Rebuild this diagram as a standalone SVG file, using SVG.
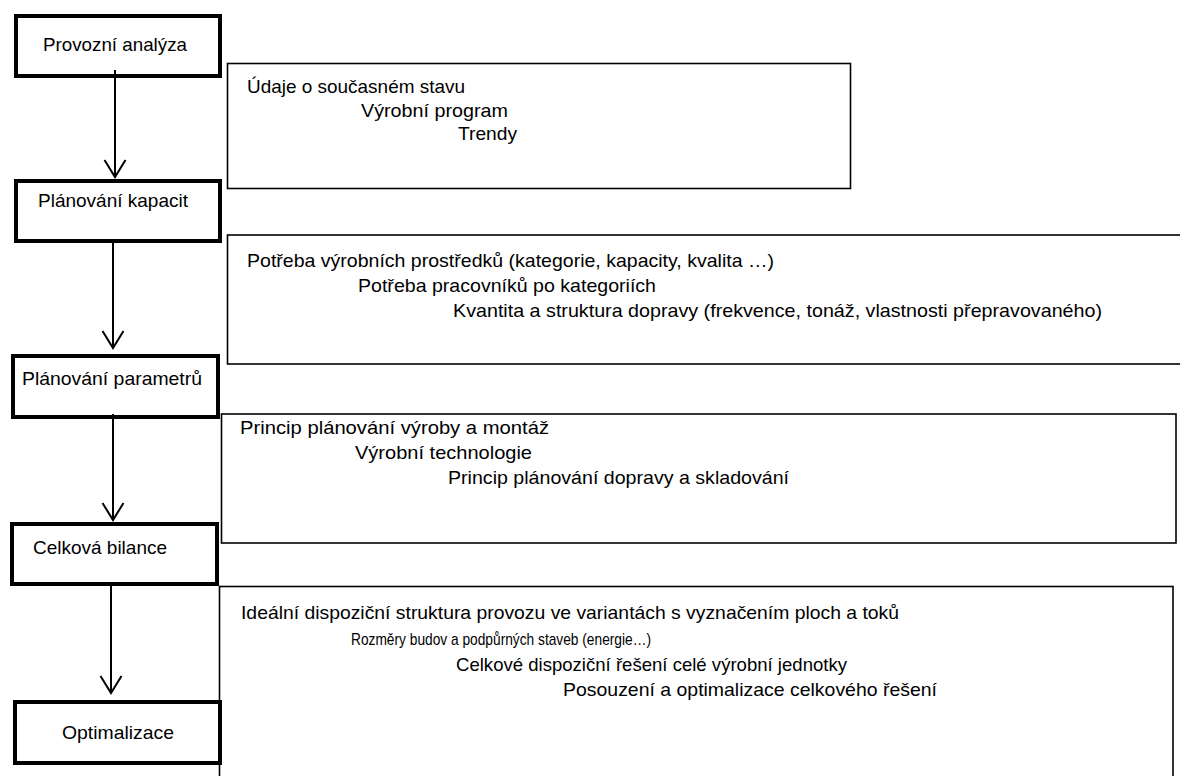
<svg xmlns="http://www.w3.org/2000/svg" width="1180" height="776" viewBox="0 0 1180 776">
<style>
.bg{fill:#ffffff}
.step{fill:#ffffff;stroke:#000000;stroke-width:4}
.info{fill:#ffffff;stroke:#000000;stroke-width:1.6}
text{font-family:"Liberation Sans",Arial,sans-serif;font-size:19px;fill:#000000}
text.small{font-size:17px}
.conn{stroke:#000000;stroke-width:2;fill:none}
</style>
<defs>
<marker id="v" markerUnits="userSpaceOnUse" markerWidth="26" markerHeight="26" refX="18" refY="12" orient="auto" viewBox="0 0 26 26">
<path d="M1,1.5 L18,12 L1,22.5" fill="none" stroke="#000000" stroke-width="2"/>
</marker>
</defs>
<rect class="bg" x="0" y="0" width="1180" height="776"/>

<g id="info-a">
<rect class="info" x="227.5" y="63.5" width="623" height="125"/>
<text x="247" y="93" textLength="218" lengthAdjust="spacingAndGlyphs">Údaje o současném stavu</text>
<text x="361" y="117" textLength="147" lengthAdjust="spacingAndGlyphs">Výrobní program</text>
<text x="458" y="140" textLength="59" lengthAdjust="spacingAndGlyphs">Trendy</text>
</g>
<g id="info-b">
<rect class="info" x="227.5" y="235" width="960" height="129"/>
<text x="247" y="267" textLength="527" lengthAdjust="spacingAndGlyphs">Potřeba výrobních prostředků (kategorie, kapacity, kvalita …)</text>
<text x="358" y="292" textLength="298" lengthAdjust="spacingAndGlyphs">Potřeba pracovníků po kategoriích</text>
<text x="453" y="317" textLength="649" lengthAdjust="spacingAndGlyphs">Kvantita a struktura dopravy (frekvence, tonáž, vlastnosti přepravovaného)</text>
</g>
<g id="info-c">
<rect class="info" x="221.5" y="414" width="954.5" height="129"/>
<text x="240" y="434" textLength="309" lengthAdjust="spacingAndGlyphs">Princip plánování výroby a montáž</text>
<text x="355" y="459" textLength="177" lengthAdjust="spacingAndGlyphs">Výrobní technologie</text>
<text x="448" y="484" textLength="341" lengthAdjust="spacingAndGlyphs">Princip plánování dopravy a skladování</text>
</g>
<g id="info-d">
<rect class="info" x="219.5" y="586.5" width="953.5" height="200"/>
<text x="241" y="619" textLength="658" lengthAdjust="spacingAndGlyphs">Ideální dispoziční struktura provozu ve variantách s vyznačením ploch a toků</text>
<text class="small" x="351" y="645" textLength="300" lengthAdjust="spacingAndGlyphs">Rozměry budov a podpůrných staveb (energie…)</text>
<text x="456" y="671" textLength="391" lengthAdjust="spacingAndGlyphs">Celkové dispoziční řešení celé výrobní jednotky</text>
<text x="563" y="696" textLength="374" lengthAdjust="spacingAndGlyphs">Posouzení a optimalizace celkového řešení</text>
</g>

<g id="step-1">
<rect class="step" x="16" y="16" width="204" height="60"/>
<text x="43" y="51" textLength="144" lengthAdjust="spacingAndGlyphs">Provozní analýza</text>
</g>
<g id="step-2">
<rect class="step" x="16" y="181" width="204" height="60"/>
<text x="38" y="207" textLength="150" lengthAdjust="spacingAndGlyphs">Plánování kapacit</text>
</g>
<g id="step-3">
<rect class="step" x="13" y="356" width="205" height="61"/>
<text x="22" y="385" textLength="180" lengthAdjust="spacingAndGlyphs">Plánování parametrů</text>
</g>
<g id="step-4">
<rect class="step" x="12" y="524" width="205" height="60"/>
<text x="33" y="554" textLength="134" lengthAdjust="spacingAndGlyphs">Celková bilance</text>
</g>
<g id="step-5">
<rect class="step" x="15" y="702" width="205" height="61"/>
<text x="62" y="739" textLength="112" lengthAdjust="spacingAndGlyphs">Optimalizace</text>
</g>

<g id="connectors">
<line class="conn" x1="115" y1="70" x2="115" y2="177" marker-end="url(#v)"/>
<line class="conn" x1="113" y1="243" x2="113" y2="348" marker-end="url(#v)"/>
<line class="conn" x1="113" y1="414" x2="113" y2="520" marker-end="url(#v)"/>
<line class="conn" x1="111" y1="586" x2="111" y2="693" marker-end="url(#v)"/>
</g>
</svg>
